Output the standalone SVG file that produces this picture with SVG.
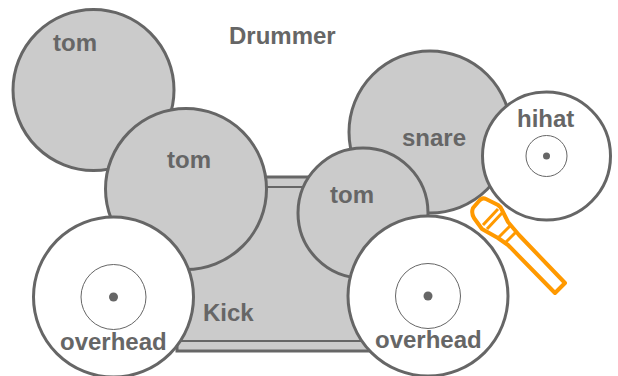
<svg xmlns="http://www.w3.org/2000/svg" width="618" height="376" viewBox="0 0 618 376">
<style>
.d{fill:#cbcbcb;stroke:#666;stroke-width:3}
.c{fill:#fff;stroke:#666;stroke-width:3}
.b{fill:#fff;stroke:#666;stroke-width:1}
.t{font-family:"Liberation Sans",Arial,sans-serif;font-weight:700;font-size:24px;fill:#666}
.dot{fill:#666}
.m{fill:none;stroke:#f90;stroke-width:4;stroke-linejoin:round}
.n{fill:none;stroke:#f90;stroke-width:3}
</style>
<g id="kick">
<rect class="d" x="177" y="177" width="193" height="174"/>
<path d="M177 187H370M177 341H370" fill="none" stroke="#666" stroke-width="2"/>
<text class="t" x="203" y="321">Kick</text>
</g>
<g id="tom1"><circle class="d" cx="93.500" cy="90" r="80.500"/><text class="t" x="53" y="51">tom</text></g>
<g id="snare"><circle class="d" cx="430" cy="132" r="81"/><text class="t" x="402" y="146">snare</text></g>
<g id="tom2"><circle class="d" cx="186" cy="189" r="80.500"/><text class="t" x="167" y="168">tom</text></g>
<g id="tom3"><circle class="d" cx="363" cy="213" r="65"/><text class="t" x="330" y="203">tom</text></g>
<g id="hihat"><circle class="c" cx="546.500" cy="156" r="64"/><circle class="b" cx="546.500" cy="156" r="20.500"/><circle class="dot" cx="546.500" cy="156" r="3.500"/><text class="t" x="517" y="127">hihat</text></g>
<g id="overhead1"><circle class="c" cx="113.500" cy="297" r="80"/><circle class="b" cx="113.500" cy="297" r="32.500"/><circle class="dot" cx="113.500" cy="297" r="4.500"/><text class="t" x="60" y="350">overhead</text></g>
<g id="overhead2"><circle class="c" cx="428" cy="296" r="80"/><circle class="b" cx="428" cy="296" r="32.500"/><circle class="dot" cx="428" cy="296" r="4.500"/><text class="t" x="375" y="348">overhead</text></g>
<g id="mic">
<path class="m" d="M473 208L479 201Q482 197 486 199L498 205Q501 207 502 210L508 222L519 235L565 283L555 293L508 245L498 238L482 229L474 218Q471 213 473 208Z"/>
<path class="n" d="M483 225L498 209M487 229L502 213M498 238L511 225M505 243L517 231"/>
</g>
<g id="connectors"></g>
<text class="t" x="229" y="44">Drummer</text>
</svg>
